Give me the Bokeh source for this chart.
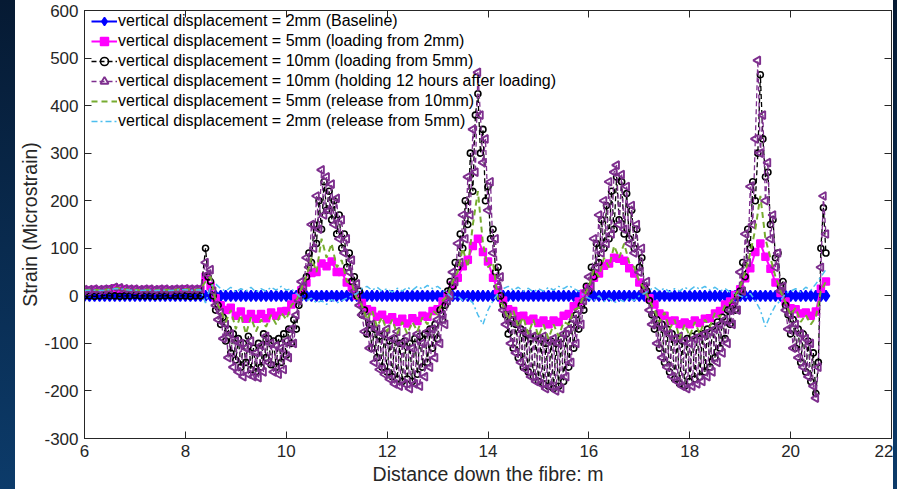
import numpy as np
from bokeh.plotting import figure
from bokeh.models import (ColumnDataSource, Range1d, LinearAxis, FixedTicker,
                          Legend, LegendItem, Div)
from bokeh.layouts import row
from bokeh.embed import file_html
from bokeh.resources import INLINE

# ---------------- data ----------------
# distance down the fibre, m (measurement grids)
distance = np.round(np.arange(6.0, 20.75, 0.1), 2)
distance_fine = np.round(np.concatenate([np.arange(6.0, 8.35, 0.1),
                                         np.arange(8.4, 20.71, 0.05)]), 2)

x_ticks = [6, 8, 10, 12, 14, 16, 18, 20, 22]
y_ticks = [-300, -200, -100, 0, 100, 200, 300, 400, 500, 600]
y_tick_labels = ["-300", "-200", "-100", "0", "100", "200", "300", "400", "500", "600"]

# 2mm baseline
disp_2mm_baseline = [
    0, 0, 0, 0, 0, 0, 0, 0, 0, 0, 0, 0, 0, 0, 0, 0, 0, 0, 0, 0, 0, 0, 0, 0,
    0, 0, 0, 0, 0, 0, 0, 0, 0, 0,
    0, 0, 0, 0, 0, 0, 0, 0, 0, 0,
    0, 0, 0, 0, 0, 0, 0, 0, 0, 0,
    0, 0, 0, 0, 0, 0, 0, 0, 0, 0,
    0, 0, 0, 0, 0, 0, 0, 0, 0, 0,
    0, 0, 0, 0, 0, 0, 0, 0, 0, 0,
    0, 0, 0, 0, 0, 0, 0, 0, 0, 0,
    0, 0, 0, 0, 0, 0, 0, 0, 0, 0,
    0, 0, 0, 0, 0, 0, 0, 0, 0, 0,
    0, 0, 0, 0, 0, 0, 0, 0, 0, 0,
    0, 0, 0, 0, 0, 0, 0, 0, 0, 0,
    0, 0, 0, 0, 0, 0, 0, 0, 0, 0,
    0, 0, 0, 0,
]

# 5mm (loading from 2mm)
disp_5mm_loading = [
    12, 12, 13, 12, 13, 14, 16, 15, 14, 13, 13, 12, 13, 13, 12, 13, 13, 12, 13, 13, 14, 13, 13, 14,
    40, 20, -5, -20, -30, -25, -42, -33, -48, -38,
    -48, -38, -47, -35, -42, -33, -32, -18, -5, 12,
    28, 48, 50, 68, 62, 72, 50, 50, 28, 18,
    0, -15, -28, -32, -44, -40, -50, -45, -55, -48,
    -58, -47, -53, -42, -44, -32, -28, -12, 0, 22,
    38, 62, 76, 105, 120, 92, 72, 38, 12, -10,
    -28, -32, -43, -42, -52, -48, -57, -52, -60, -52,
    -55, -42, -38, -22, -12, 5, 18, 38, 47, 63,
    68, 80, 78, 74, 58, 47, 28, 17, -5, -18,
    -37, -42, -53, -52, -60, -56, -60, -52, -57, -48,
    -47, -37, -32, -18, -12, 2, 14, 37, 58, 92,
    110, 82, 57, 28, 6, -12, -26, -28, -37, -35,
    -42, -33, 15, 30,
]

# 10mm (loading from 5mm) -- on the fine grid
disp_10mm_loading = [
    0, 0, -1, 0, 1, 0, 0, -1, 0, 0, 1, 0, 0, 0, -1, 0, 0, 1, 0, 0, 0, -1, 0, 0,
    100, 40, 30, 0, -30, -20, -60, -45, -95, -70, -120, -80, -135, -90, -150, -100, -140, -85, -155, -110,
    -160, -100, -150, -80, -130, -90, -145, -95, -150, -90, -140, -80, -125, -70, -100, -50, -70, -20, 10, 0,
    40, 90, 70, 150, 110, 200, 140, 240, 180, 220, 160, 200, 130, 170, 100, 130, 60, 90, 30, 40,
    0, 10, -40, -30, -80, -60, -110, -70, -130, -85, -150, -80, -160, -95, -170, -90, -175, -100, -180, -95,
    -175, -100, -180, -90, -165, -85, -150, -80, -140, -70, -110, -60, -90, -30, -50, -20, 10, 30, 20, 70,
    60, 130, 100, 200, 150, 300, 220, 380, 425, 300, 350, 200, 230, 120, 140, 50, 60, 0, -20, -40,
    -80, -50, -110, -60, -130, -70, -150, -80, -160, -90, -170, -85, -180, -90, -185, -100, -190, -95, -195, -100,
    -190, -90, -180, -80, -150, -60, -110, -40, -70, -20, -30, 20, 10, 60, 40, 110, 70, 160, 100, 190,
    120, 220, 140, 250, 160, 240, 130, 215, 120, 180, 100, 140, 60, 80, 20, 10, -10, -40, -70, -50,
    -110, -60, -140, -70, -160, -80, -175, -90, -185, -95, -190, -90, -180, -85, -175, -80, -170, -80, -160, -70,
    -150, -65, -130, -55, -110, -45, -90, -30, -60, -20, -30, 0, 10, 70, 40, 140, 100, 240, 200, 300,
    465, 330, 250, 260, 150, 160, 80, 90, 20, 30, -20, -40, -80, -50, -110, -70, -140, -80, -160, -95,
    -180, -120, -205, -140, 100, 185, 90,
]

# 10mm (holding 12 hours after loading) -- on the fine grid
disp_10mm_holding = [
    13, 13, 14, 13, 14, 15, 18, 17, 15, 14, 14, 13, 14, 14, 13, 14, 14, 13, 14, 14, 15, 14, 14, 15,
    70, 45, 55, 10, -20, -50, -35, -90, -60, -130, -80, -150, -95, -160, -100, -170, -110, -165, -95, -170,
    -120, -172, -105, -160, -85, -140, -100, -160, -105, -165, -110, -155, -95, -130, -70, -100, -40, -10, 30, 20,
    80, 60, 150, 100, 210, 140, 265, 170, 250, 180, 235, 150, 205, 120, 160, 90, 120, 50, 75, 10,
    25, -20, -40, -75, -45, -110, -60, -140, -70, -155, -80, -165, -70, -175, -90, -185, -75, -190, -100, -185,
    -85, -195, -110, -185, -80, -190, -100, -170, -75, -150, -70, -130, -50, -100, -40, -60, -10, 0, 50, 30,
    110, 70, 170, 120, 250, 170, 350, 260, 470, 380, 280, 330, 180, 240, 90, 120, 20, 40, -30, -60,
    -40, -100, -50, -120, -60, -140, -75, -155, -80, -170, -85, -180, -90, -185, -85, -195, -95, -190, -90, -200,
    -100, -195, -80, -170, -70, -140, -50, -100, -30, -60, -10, 10, 40, 20, 120, 60, 170, 90, 200, 110,
    240, 130, 260, 275, 150, 255, 140, 230, 110, 190, 90, 150, 50, 100, 10, 30, -30, -60, -40, -100,
    -60, -130, -70, -150, -80, -170, -90, -180, -85, -190, -95, -195, -100, -190, -90, -185, -85, -180, -80, -170,
    -75, -160, -70, -140, -60, -120, -50, -100, -30, -60, -10, -30, 50, 10, 130, 70, 230, 150, 330, 495,
    300, 380, 200, 280, 120, 170, 60, 90, 10, 20, -30, -70, -40, -110, -60, -130, -80, -150, -90, -170,
    -100, -190, -215, -150, 60, 210, 130,
]

# 5mm (release from 10mm)
disp_5mm_release = [
    12, 13, 13, 12, 13, 14, 16, 16, 14, 13, 13, 12, 13, 13, 12, 13, 13, 12, 13, 14, 14, 13, 13, 14,
    30, 40, -10, -30, -55, -30, -70, -40, -80, -45,
    -75, -50, -65, -40, -60, -35, -50, -20, -10, 15,
    40, 80, 50, 120, 80, 110, 60, 75, 30, 25,
    -5, -20, -50, -30, -65, -45, -75, -50, -80, -55,
    -80, -55, -75, -45, -60, -30, -40, -10, 0, 30,
    50, 100, 60, 150, 220, 110, 60, 70, -10, -20,
    -50, -30, -65, -45, -80, -50, -85, -60, -90, -60,
    -85, -55, -60, -30, -25, 0, 20, 55, 40, 80,
    60, 105, 80, 110, 70, 60, 30, 15, -10, -30,
    -55, -35, -70, -50, -90, -60, -85, -55, -80, -50,
    -65, -35, -45, -20, -15, 0, 20, 50, 90, 140,
    210, 120, 80, 40, 10, -15, -40, -25, -55, -40,
    -60, -45, 10, 30,
]

# 2mm (release from 5mm)
disp_2mm_release = [
    11, 12, 12, 11, 12, 13, 15, 15, 13, 12, 12, 11, 12, 12, 11, 12, 12, 11, 12, 13, 13, 12, 12, 13,
    -15, 20, 25, 15, 10, 18, 8, 15, 10, 18,
    8, 15, 10, 18, 12, 20, 12, 15, 5, -5,
    -10, -5, -15, -10, -18, -8, -15, -10, -5, 0,
    5, 15, 20, 12, 18, 10, 15, 8, 16, 10,
    18, 12, 20, 14, 22, 15, 20, 12, 5, -5,
    0, -10, -5, -15, -40, -60, -30, -10, 5, 15,
    20, 12, 18, 10, 16, 8, 15, 10, 18, 12,
    20, 15, 22, 15, 10, 0, -5, -10, 0, -12,
    -5, -15, -8, -12, -5, -10, 0, 5, 12, 18,
    10, 16, 8, 15, 10, 18, 12, 20, 14, 20,
    12, 18, 10, 15, 8, 5, 0, -5, 5, -10,
    -30, -65, -40, -20, -10, 5, 10, 15, 8, 18,
    12, 25, 40, 55,
]

labels = [
    "vertical displacement = 2mm (Baseline)",
    "vertical displacement = 5mm (loading from 2mm)",
    "vertical displacement = 10mm (loading from 5mm)",
    "vertical displacement = 10mm (holding 12 hours after loading)",
    "vertical displacement = 5mm (release from 10mm)",
    "vertical displacement = 2mm (release from 5mm)",
]

# ---------------- figure ----------------
FONT = "Liberation Sans"
TXT = "#262626"

p = figure(width=878, height=489, x_range=Range1d(6, 22), y_range=Range1d(-300, 600),
           output_backend="svg", toolbar_location=None,
           min_border_left=69, min_border_right=2, min_border_top=10, min_border_bottom=51,
           background_fill_color="white", border_fill_color="white")
p.xgrid.visible = False
p.ygrid.visible = False
p.outline_line_color = TXT
p.outline_line_width = 1

xt = FixedTicker(ticks=x_ticks)
yt = FixedTicker(ticks=y_ticks)
bottom_ax = p.xaxis[0]
left_ax = p.yaxis[0]
bottom_ax.ticker = xt
left_ax.ticker = yt
left_ax.major_label_overrides = dict(zip(y_ticks, y_tick_labels))

top_ax = LinearAxis(ticker=xt, major_label_overrides={t: "" for t in x_ticks}, major_label_standoff=0)
right_ax = LinearAxis(ticker=yt, major_label_overrides={t: "" for t in y_ticks}, major_label_standoff=0)
p.add_layout(top_ax, "above")
p.add_layout(right_ax, "right")

for ax in (bottom_ax, left_ax, top_ax, right_ax):
    ax.major_tick_in = 7
    ax.major_tick_out = 0
    ax.minor_tick_line_color = None
    ax.axis_line_color = TXT
    ax.major_tick_line_color = TXT
    ax.major_label_text_font = FONT
    ax.major_label_text_color = TXT
    ax.axis_label_text_font = FONT
    ax.axis_label_text_color = TXT
    ax.axis_label_text_font_style = "normal"

bottom_ax.major_label_text_font_size = "17px"
left_ax.major_label_text_font_size = "17px"
bottom_ax.major_label_standoff = 6
left_ax.major_label_standoff = 6
bottom_ax.axis_label = "Distance down the fibre: m"
left_ax.axis_label = "Strain (Microstrain)"
bottom_ax.axis_label_text_font_size = "19.5px"
left_ax.axis_label_text_font_size = "19.5px"
bottom_ax.axis_label_standoff = 3
left_ax.axis_label_standoff = 0

styles = [
    # values, x grid, color, dash, line width, marker, size, filled, angle, marker line width
    (disp_2mm_baseline, distance, "#0000ff", "solid", 2, "diamond", 11, True, 0.0, 1.5),
    (disp_5mm_loading, distance, "#ff00ff", "solid", 2, "square", 7, True, 0.0, 1.5),
    (disp_10mm_loading, distance_fine, "#000000", "5 3", 1.3, "circle", 6, False, 0.0, 1.6),
    (disp_10mm_holding, distance_fine, "#7e2f8e", "5 3", 1.3, "triangle", 8, False, np.pi / 2, 1.9),
    (disp_5mm_release, distance, "#77ac30", "6 4", 2, None, 0, False, 0.0, 0),
    (disp_2mm_release, distance, "#4dbeee", "6 3 2 3", 1.5, None, 0, False, 0.0, 0),
]

items = []
for label, (ys, xs, color, dash, lw, marker, size, filled, ang, mlw) in zip(labels, styles):
    src = ColumnDataSource(dict(x=xs, y=ys))
    rends = [p.line("x", "y", source=src, line_color=color, line_width=lw, line_dash=dash)]
    if marker:
        rends.append(p.scatter("x", "y", source=src, marker=marker, size=size, angle=ang,
                               line_color=color, line_width=mlw,
                               fill_color=color if filled else None))
    items.append(LegendItem(label=label, renderers=rends))

legend = Legend(items=items, location=(7, 307), orientation="vertical",
                padding=0, margin=0, spacing=0,
                glyph_width=26, glyph_height=20, label_height=20, label_standoff=1,
                label_text_font=FONT, label_text_font_size="16px", label_text_color="#000000",
                border_line_alpha=0, background_fill_alpha=0)
p.add_layout(legend, "center")

strip_left = Div(text="", width=15, height=489, margin=0,
                 styles={"background": "linear-gradient(#061a33, #0c3b6a)"})
strip_right = Div(text="", width=4, height=489, margin=0,
                  styles={"background": "linear-gradient(#061a33, #0c3b6a)"})

layout = row(strip_left, p, strip_right, spacing=0)
open("out.html", "w").write(file_html(layout, INLINE))
